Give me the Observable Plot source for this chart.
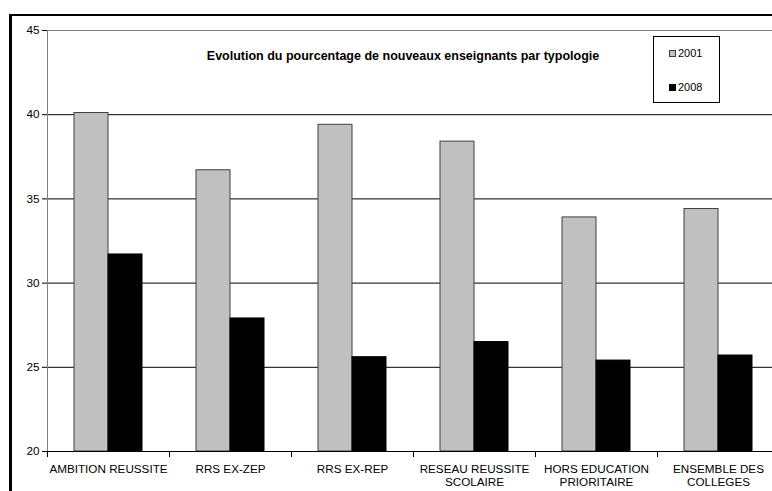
<!DOCTYPE html>
<html>
<head>
<meta charset="utf-8">
<script src="https://cdn.jsdelivr.net/npm/d3@7"></script>
<script src="https://cdn.jsdelivr.net/npm/@observablehq/plot@0.6"></script>
<style>
  html, body { margin: 0; padding: 0; background: #fff; overflow: hidden; width: 772px; height: 491px; }
  body { position: relative; font-family: "Liberation Sans", Arial, sans-serif; }
  #chart { position: absolute; left: 0; top: 0; width: 790px; height: 491px; line-height: 0; }
  #chart svg { max-width: none !important; display: block; }
  #border { position: absolute; left: 9px; top: 14px; width: 900px; height: 600px; border-left: 3px solid #000; border-top: 2px solid #000; box-sizing: border-box; }
  #title { position: absolute; left: 403px; top: 49px; transform: translateX(-50%); white-space: nowrap; font-size: 12.5px; font-weight: bold; line-height: 14px; color: #000; }
  #legend { position: absolute; left: 653px; top: 36px; width: 67px; height: 67px; border: 1px solid #000; box-sizing: border-box; background: #fff; font-size: 11px; }
  .item { position: absolute; left: 15px; line-height: 13px; white-space: nowrap; }
  .sw { display: inline-block; width: 7px; height: 7px; margin-right: 2px; vertical-align: 0px; box-sizing: border-box; }
</style>
</head>
<body>
<div id="border"></div>
<div id="chart"></div>
<div id="title"></div>
<div id="legend"></div>
<script>
const categories = ["AMBITION REUSSITE", "RRS EX-ZEP", "RRS EX-REP", "RESEAU REUSSITE\nSCOLAIRE", "HORS EDUCATION\nPRIORITAIRE", "ENSEMBLE DES\nCOLLEGES"];
const years = ["2001", "2008"];
const values2001 = [40.1, 36.7, 39.4, 38.4, 33.9, 34.4];
const values2008 = [31.7, 27.9, 25.6, 26.5, 25.4, 25.7];
const yTicks = [20, 25, 30, 35, 40, 45];
const titleText = "Evolution du pourcentage de nouveaux enseignants par typologie";
const yearFill = ["#c0c0c0", "#000000"];
const yearStroke = ["#404040", "#000000"];

const data = categories.flatMap((c, i) => [
  {cat: c, year: years[0], value: values2001[i]},
  {cat: c, year: years[1], value: values2008[i]}
]);

const chart = Plot.plot({
  width: 790,
  height: 491,
  marginLeft: 45,
  marginRight: 10,
  marginTop: 30,
  marginBottom: 40,
  facet: {marginTop: 0, marginBottom: 0, marginLeft: 0, marginRight: 0},
  style: {fontFamily: "'Liberation Sans', Arial, sans-serif", fontSize: "11.7px", color: "#000", background: "transparent", maxWidth: "none"},
  fx: {domain: categories, padding: 0, label: null, axis: null},
  x: {domain: years, paddingInner: 0, paddingOuter: 0.75, axis: null},
  y: {domain: [20, 45], label: null, axis: null},
  color: {domain: years, range: yearFill},
  marks: [
    Plot.ruleY(yTicks.slice(1, -1), {stroke: "#000", strokeOpacity: 1}),
    Plot.ruleY([45], {stroke: "#808080"}),
    Plot.barY(data, {
      fx: "cat", x: "year", y1: 20, y2: "value",
      fill: "year",
      stroke: d => yearStroke[years.indexOf(d.year)],
      strokeWidth: 1
    }),
    Plot.frame({anchor: "left", stroke: "#808080", facetAnchor: "left"}),
    Plot.frame({anchor: "left", stroke: "#000", insetTop: 421, insetBottom: -5}),
    Plot.ruleY([20], {stroke: "#000"}),
    Plot.axisY({ticks: yTicks, tickSize: 5, tickPadding: 3, fontSize: 11.7, label: null, stroke: "#000"}),
    Plot.axisFx({anchor: "bottom", tickSize: 0, tickPadding: 12, fontSize: 11.7, lineHeight: 1.13, label: null})
  ]
});
document.getElementById("chart").appendChild(chart);

document.getElementById("title").textContent = titleText;

const legend = document.getElementById("legend");
years.forEach((y, i) => {
  const item = document.createElement("div");
  item.className = "item";
  item.style.top = (i === 0 ? 10 : 44) + "px";
  const sw = document.createElement("span");
  sw.className = "sw";
  sw.style.background = yearFill[i];
  sw.style.border = "1px solid " + yearStroke[i];
  item.appendChild(sw);
  item.appendChild(document.createTextNode(y));
  legend.appendChild(item);
});
</script>
</body>
</html>
